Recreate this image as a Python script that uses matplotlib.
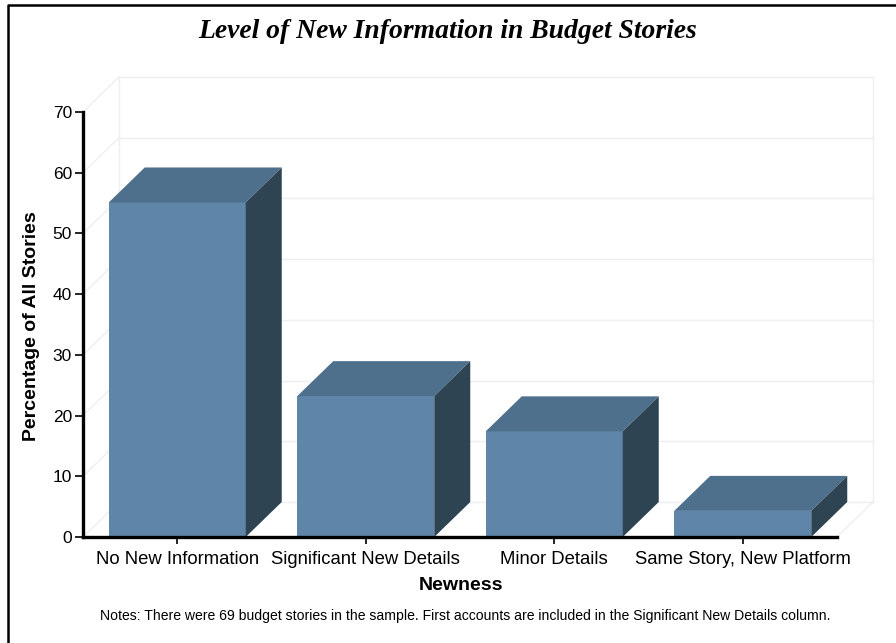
import matplotlib
matplotlib.use('Agg')
import matplotlib.pyplot as plt
from matplotlib.patches import Polygon

categories = ['No New Information', 'Significant New Details', 'Minor Details', 'Same Story, New Platform']
values = [55.1, 23.2, 17.4, 4.3]
y_ticks = [0, 10, 20, 30, 40, 50, 60, 70]

W, H = 896, 643
fig = plt.figure(figsize=(W / 100, H / 100), dpi=100)
plt.rcParams['font.family'] = ['Liberation Sans', 'DejaVu Sans']

# frame: only the left and top sides show, the rest is cut off by the picture edge
fig.add_artist(plt.Line2D([8 / W, 8 / W, 1], [0, 1 - 5 / H, 1 - 5 / H], transform=fig.transFigure,
                          color='black', lw=1.8))

# plot area in pixels
left, right, top, bottom = 83, 837, 112, 537
ax = fig.add_axes([left / W, 1 - bottom / H, (right - left) / W, (bottom - top) / H])
ax.set_xlim(0, len(categories))
ax.set_ylim(0, 70)
ax.patch.set_alpha(0)

# depth of the 3d effect, in data units
dx = 36 / ((right - left) / len(categories))
dy = 35 / ((bottom - top) / 70)
bar_w = 137 / ((right - left) / len(categories))
grid_c = '#efefef'

# back wall grid and side wall
for t in y_ticks:
    ax.plot([dx, len(categories) + dx], [t + dy, t + dy], color=grid_c, lw=1, clip_on=False, zorder=1)
    ax.plot([0, dx], [t, t + dy], color=grid_c, lw=1, clip_on=False, zorder=1)
ax.plot([dx, dx], [dy, 70 + dy], color=grid_c, lw=1, clip_on=False, zorder=1)
ax.plot([len(categories) + dx] * 2, [dy, 70 + dy], color=grid_c, lw=1, clip_on=False, zorder=1)
ax.plot([len(categories), len(categories) + dx], [0, dy], color=grid_c, lw=1, clip_on=False, zorder=1)

for i, v in enumerate(values):
    x0 = i + 0.5 - bar_w / 2
    x1 = x0 + bar_w
    ax.bar(i + 0.5, v, width=bar_w, color='#5f86a8', zorder=3)
    ax.add_patch(Polygon([(x0, v), (x1, v), (x1 + dx, v + dy), (x0 + dx, v + dy)],
                         fc='#4e708c', ec='none', clip_on=False, zorder=3))
    ax.add_patch(Polygon([(x1, 0), (x1 + dx, dy), (x1 + dx, v + dy), (x1, v)],
                         fc='#2e4452', ec='none', clip_on=False, zorder=3))

for s in ['top', 'right']:
    ax.spines[s].set_visible(False)
for s in ['left', 'bottom']:
    ax.spines[s].set_linewidth(2.4)
    ax.spines[s].set_zorder(5)

ax.set_yticks(y_ticks)
ax.set_xticks([i + 0.5 for i in range(len(categories))])
ax.set_xticklabels(categories)
ax.tick_params(axis='y', length=6, width=1.2, labelsize=12.5, pad=2)
ax.tick_params(axis='x', length=5, width=1.2, labelsize=13.3, pad=5)

fig.text(448 / W, 1 - 31 / H, 'Level of New Information in Budget Stories', ha='center', va='center',
         family='Liberation Serif', style='italic', weight='bold', fontsize=19.9)
fig.text(32 / W, 1 - 326 / H, 'Percentage of All Stories', rotation=90, ha='center', va='center',
         weight='bold', fontsize=14)
fig.text(460.5 / W, 1 - 586 / H, 'Newness', ha='center', va='center', weight='bold', fontsize=14)
fig.text(465 / W, 1 - 616 / H,
         'Notes: There were 69 budget stories in the sample. First accounts are included in the Significant New Details column.',
         ha='center', va='center', fontsize=10.05)

fig.savefig('out.png', dpi=100)
